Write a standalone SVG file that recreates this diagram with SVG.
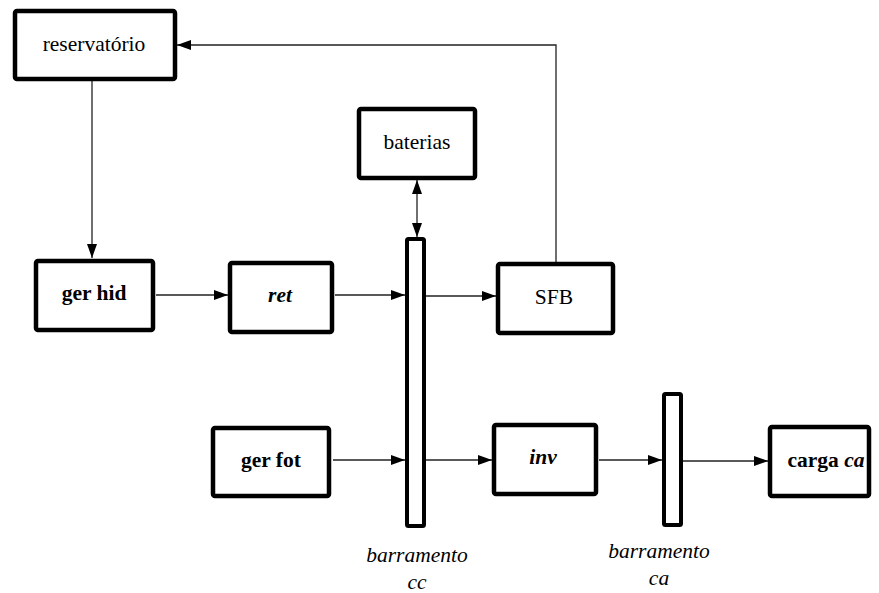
<svg xmlns="http://www.w3.org/2000/svg" width="879" height="593" viewBox="0 0 879 593">
  <defs>
    <marker id="ah" viewBox="0 0 14 10" refX="14" refY="5" markerWidth="14" markerHeight="10" markerUnits="userSpaceOnUse" orient="auto-start-reverse">
      <path d="M0,0 L14,5 L0,10 Z" fill="#000"/>
    </marker>
  </defs>
  <style>
    .box { fill: #fff; stroke: #000; stroke-width: 4.5; }
    .bus { fill: #fff; stroke: #000; stroke-width: 4; }
    .lbl { font-size: 21.5px; fill: #000; text-anchor: middle; }
    .b { font-weight: bold; }
    .i { font-style: italic; }
    .wire { fill: none; stroke: #222; stroke-width: 1.3; }
  </style>
  <rect width="879" height="593" fill="#fff"/>

  <g id="connectors">
    <path class="wire" d="M556,263 V45 H177" marker-end="url(#ah)"/>
    <path class="wire" d="M92,81 V258" marker-end="url(#ah)"/>
    <path class="wire" d="M417,180 V237" marker-start="url(#ah)" marker-end="url(#ah)"/>
    <path class="wire" d="M156,295 H228" marker-end="url(#ah)"/>
    <path class="wire" d="M335,295 H405" marker-end="url(#ah)"/>
    <path class="wire" d="M426,296 H496" marker-end="url(#ah)"/>
    <path class="wire" d="M333,460 H405" marker-end="url(#ah)"/>
    <path class="wire" d="M426,460 H492" marker-end="url(#ah)"/>
    <path class="wire" d="M599,460 H662" marker-end="url(#ah)"/>
    <path class="wire" d="M683,461 H768" marker-end="url(#ah)"/>
  </g>

  <g font-family="'Liberation Serif', 'DejaVu Serif', serif">
  <g id="reservatorio">
    <rect class="box" x="15" y="11" width="160" height="68" rx="2"/>
    <text class="lbl" x="94" y="51">reservatório</text>
  </g>
  <g id="baterias">
    <rect class="box" x="359" y="109" width="116" height="69" rx="2"/>
    <text class="lbl" x="417" y="149">baterias</text>
  </g>
  <g id="ger-hid">
    <rect class="box" x="36" y="261" width="117" height="69" rx="2"/>
    <text class="lbl b" x="94" y="300">ger hid</text>
  </g>
  <g id="ret">
    <rect class="box" x="230" y="263" width="102" height="69" rx="2"/>
    <text class="lbl b i" x="280" y="302">ret</text>
  </g>
  <g id="sfb">
    <rect class="box" x="498" y="264" width="115" height="69" rx="2"/>
    <text class="lbl" x="554" y="304">SFB</text>
  </g>
  <g id="ger-fot">
    <rect class="box" x="213" y="428" width="116" height="68" rx="2"/>
    <text class="lbl b" x="271" y="467">ger fot</text>
  </g>
  <g id="inv">
    <rect class="box" x="494" y="425" width="102" height="69" rx="2"/>
    <text class="lbl b i" x="543" y="464">inv</text>
  </g>
  <g id="carga-ca">
    <rect class="box" x="770" y="427" width="99" height="69" rx="2"/>
    <text class="lbl b" x="826" y="467">carga <tspan class="i">ca</tspan></text>
  </g>
  <g id="barramento-cc">
    <rect class="bus" x="407" y="239" width="17" height="287" rx="1.5"/>
    <text class="lbl i" x="417" y="562">barramento</text>
    <text class="lbl i" x="417" y="589">cc</text>
  </g>
  <g id="barramento-ca">
    <rect class="bus" x="664" y="394" width="17" height="131" rx="1.5"/>
    <text class="lbl i" x="659" y="558">barramento</text>
    <text class="lbl i" x="659" y="585">ca</text>
  </g>
  </g>
</svg>
